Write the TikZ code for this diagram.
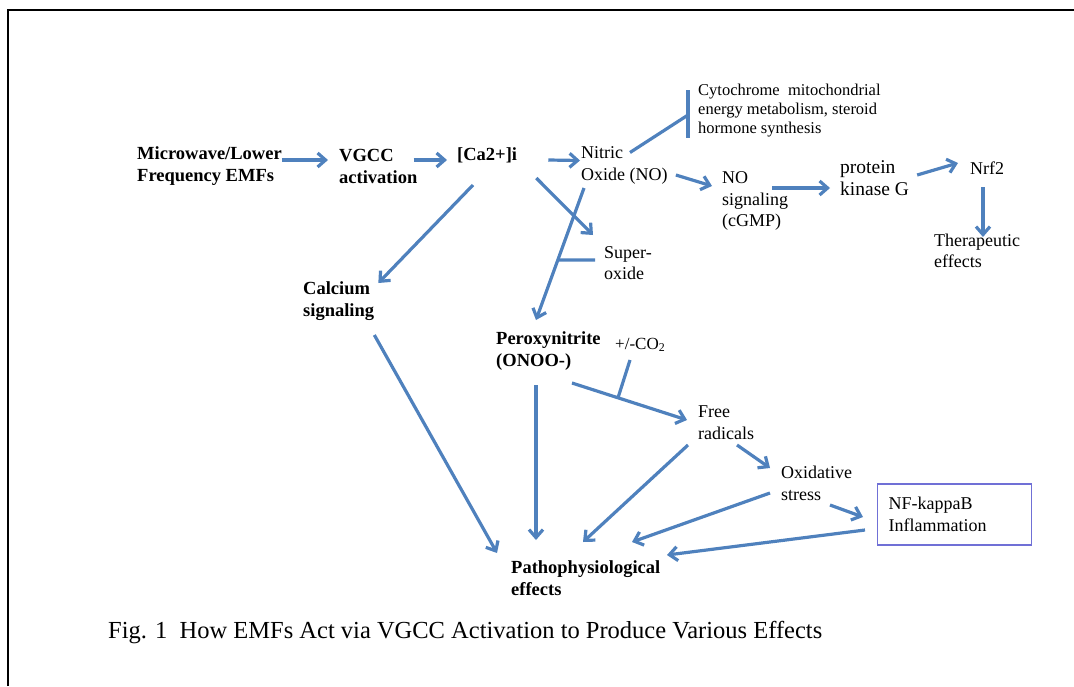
\documentclass[tikz,border=0pt]{standalone}
\usepackage{fontspec}
\setmainfont{Liberation Serif}
\usepackage{tikz}
\usetikzlibrary{arrows.meta, positioning, calc}
\definecolor{arrowblue}{RGB}{79,129,189}
\definecolor{boxblue}{RGB}{112,112,214}

\begin{document}
\begin{tikzpicture}[
    x=1pt, y=-1pt,
    lbl/.style={inner sep=0, anchor=west, align=left, font=\fontsize{18}{21.5}\selectfont},
    boldlbl/.style={lbl, font=\fontsize{18.5}{22}\selectfont\bfseries},
    smalllbl/.style={lbl, font=\fontsize{16.5}{19}\selectfont},
    arr/.style={-{Straight Barb[length=8pt, width=14pt]}, line width=3.2pt, arrowblue},
    link/.style={line width=3.2pt, arrowblue}
]
\useasboundingbox (0,0) rectangle (1074,686);
% page frame
\draw[line width=2pt] (8,686) -- (8,10) -- (1074,10);

% main chain
\node[boldlbl] (emf) at (137,166) {Microwave/Lower\\Frequency EMFs};
\node[boldlbl] (vgcc) at (339,166) {VGCC\\activation};
\node[boldlbl] (ca) at (457,155) {[Ca2+]i};
\node[lbl] (no) at (581,165.5) {Nitric\\Oxide (NO)};
\node[smalllbl] (cyto) at (698,111) {Cytochrome\ \ mitochondrial\\energy metabolism, steroid\\hormone synthesis};
\node[lbl] (nosig) at (722,201) {NO\\signaling\\(cGMP)};
\node[lbl, font=\fontsize{19.5}{22}\selectfont] (pkg) at (840,178) {protein\\kinase G};
\node[lbl] (nrf) at (970,168) {Nrf2};
\node[lbl] (thera) at (934,251) {Therapeutic\\effects};
\node[lbl] (super) at (604,263) {Super-\\oxide};
\node[boldlbl] (calc) at (303,301) {Calcium\\signaling};
\node[boldlbl] (pero) at (496,351) {Peroxynitrite\\(ONOO-)};
\node[lbl, font=\fontsize{17}{20}\selectfont] (co2) at (615,345) {+/-CO\textsubscript{2}};
\node[lbl] (free) at (698,422.5) {Free\\radicals};
\node[lbl] (oxi) at (781,483.5) {Oxidative\\stress};
\node[lbl, draw=boxblue, line width=1.3pt, minimum width=154pt, minimum height=61pt,
      inner xsep=11pt, text width=132pt] (nfkb) at (877,514.5) {NF-kappaB\\Inflammation};
\node[boldlbl] (patho) at (511,578) {Pathophysiological\\effects};
\node[lbl, font=\fontsize{24.5}{28}\selectfont] (caption) at (108,633)
    {Fig. 1\enspace How EMFs Act via VGCC Activation to Produce Various Effects};

% arrows
\draw[arr] ([shift={(0,-6)}]emf.east) -- ([shift={(-11,-6)}]vgcc.west);
\draw[arr] ([shift={(-4,-6)}]vgcc.east) -- ([shift={(-10,5)}]ca.west);
\draw[arr] ([shift={(31,5)}]ca.east) -- ([shift={(-1,-5)}]no.west);
\draw[link] ([shift={(49,-13)}]no.west) -- ([shift={(-10,4)}]cyto.west);
\draw[link] ([shift={(-10,-21)}]cyto.west) -- ([shift={(-10,27)}]cyto.west);
\draw[arr] ([shift={(8,9.5)}]no.east) -- ([shift={(-10,-15)}]nosig.west);
\draw[arr] ([shift={(50,-13)}]nosig.west) -- ([shift={(-10,10)}]pkg.west);
\draw[arr] ([shift={(8,-3)}]pkg.east) -- ([shift={(-12,-5)}]nrf.west);
\draw[arr] ([shift={(13,19)}]nrf.west) -- ([shift={(49,-14)}]thera.west);
\draw[arr] ([shift={(19,23)}]ca.east) -- ([shift={(-11,-28)}]super.west);
\draw[arr] ([shift={(3,22.5)}]no.west) -- coordinate[pos=0.545] (join1) ([shift={(40,-31)}]pero.west);
\draw[link] ([shift={(-9,-3)}]super.west) -- (join1);
\draw[arr] ([shift={(16,30)}]ca.west) -- ([shift={(4,-18)}]calc.east);
\draw[arr] ([shift={(0,34)}]calc.east) -- ([shift={(-14,-25)}]patho.west);
\draw[arr] ([shift={(40,34)}]pero.west) -- ([shift={(25,-38)}]patho.west);
\draw[arr] ([shift={(76,32)}]pero.west) -- coordinate[pos=0.4] (join2) ([shift={(-11,-2.5)}]free.west);
\draw[link] ([shift={(15,15)}]co2.west) -- (join2);
\draw[arr] ([shift={(39,22.5)}]free.west) -- ([shift={(-11,-15.5)}]oxi.west);
\draw[arr] ([shift={(-10,22.5)}]free.west) -- ([shift={(72,-36)}]patho.west);
\draw[arr] ([shift={(-11,9.5)}]oxi.west) -- ([shift={(121,-36)}]patho.west);
\draw[arr] ([shift={(49,21.5)}]oxi.west) -- ([shift={(-14,2.5)}]nfkb.west);
\draw[arr] ([shift={(-12,15.5)}]nfkb.west) -- ([shift={(156,-23)}]patho.west);
\end{tikzpicture}
\end{document}
